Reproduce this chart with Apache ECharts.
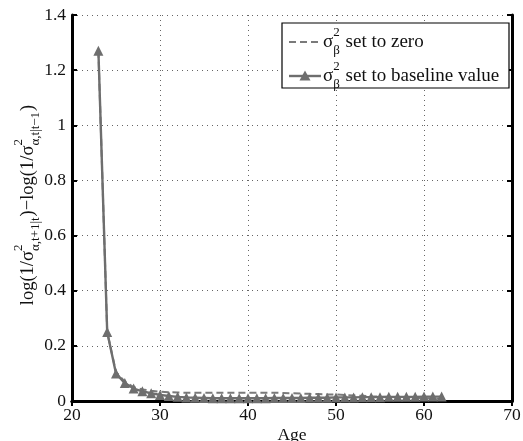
<!DOCTYPE html>
<html><head><meta charset="utf-8">
<script src="https://cdn.jsdelivr.net/npm/echarts@6/dist/echarts.min.js"></script>
<style>html,body{margin:0;padding:0;background:#fff}#c{width:523px;height:441px}</style>
</head><body><div id="c"></div>
<script>
var ages = [23,24,25,26,27,28,29,30,31,32,33,34,35,36,37,38,39,40,41,42,43,44,45,46,47,48,49,50,51,52,53,54,55,56,57,58,59,60,61,62];
var baselineVals = [1.27,0.25,0.10,0.065,0.045,0.035,0.028,0.022,0.018,0.015,0.013,0.012,0.011,0.010,0.010,0.010,0.010,0.010,0.010,0.010,0.011,0.011,0.011,0.011,0.012,0.012,0.012,0.013,0.013,0.013,0.014,0.014,0.014,0.015,0.015,0.015,0.015,0.016,0.016,0.016];
var zeroVals = [1.27,0.25,0.105,0.07,0.05,0.042,0.037,0.034,0.032,0.031,0.030,0.030,0.030,0.030,0.030,0.030,0.030,0.030,0.030,0.030,0.030,0.029,0.028,0.027,0.026,0.025,0.024,0.024,0.022,0.020,0.019,0.017,0.016,0.015,0.013,0.012,0.011,0.010,0.009,0.008];
var xTicks = {min:20, max:70, step:10};
var yTicks = {min:0, max:1.4, step:0.2};
var legendNames = ['set to zero','set to baseline value'];

var FONT = '"Liberation Serif","Times New Roman",serif';
var TXT = '#111';
var GRAY = '#6e6e6e';
var cv = document.createElement('canvas').getContext('2d');
function tw(t, s){ cv.font = s + 'px ' + FONT; return cv.measureText(t).width; }

function mathText(pieces, size, ssize, supDy, subDy, z){
  var kids = [], x = 0;
  function mk(t, xx, yy, s){
    return {type:'text', x:xx, y:yy, z:z, style:{text:t, fontSize:s, fontFamily:FONT, fill:TXT, verticalAlign:'middle', align:'left'}};
  }
  pieces.forEach(function(p){
    if (typeof p === 'string'){
      kids.push(mk(p, x, 0, size));
      x += tw(p, size);
    } else {
      var w = 0;
      if (p.sup){ kids.push(mk(p.sup, x, supDy, ssize)); w = Math.max(w, tw(p.sup, ssize)); }
      if (p.sub){ kids.push(mk(p.sub, x, subDy, ssize)); w = Math.max(w, tw(p.sub, ssize)); }
      x += w + 1;
    }
  });
  return {kids:kids, width:x};
}

var ytitle = mathText(['log(1/σ',{sup:'2',sub:'α,t+1|t'},')−log(1/σ',{sup:'2',sub:'α,t|t−1'},')'], 18.5, 13, -9, 8, 5);
ytitle.kids.forEach(function(k){ k.x -= ytitle.width/2; });

var leg1 = mathText(['σ',{sup:'2',sub:'β'},' ' + legendNames[0]], 19, 13, -9, 9, 12);
var leg2 = mathText(['σ',{sup:'2',sub:'β'},' ' + legendNames[1]], 19, 13, -9, 9, 12);

function pairs(xs, ys){ return xs.map(function(a,i){ return [a, ys[i]]; }); }

var chart = echarts.init(document.getElementById('c'));
var axisLine = {show:true, lineStyle:{color:'#000', width:3}};
var tick = {show:true, inside:true, length:5, lineStyle:{color:'#000', width:2}};
var split = {show:true, lineStyle:{color:'#666', width:1, type:[1,4]}};
chart.setOption({
  animation:false,
  backgroundColor:'#fff',
  grid:{left:72, right:11, top:15, bottom:40, show:false, containLabel:false, outerBoundsMode:'none'},
  xAxis:[
    {type:'value', min:xTicks.min, max:xTicks.max, interval:xTicks.step, position:'bottom',
     axisLine:axisLine, axisTick:tick, splitLine:split,
     axisLabel:{fontFamily:FONT, fontSize:17.5, color:TXT, margin:5},
     name:'Age', nameLocation:'middle', nameGap:25, nameMoveOverlap:false,
     nameTextStyle:{fontFamily:FONT, fontSize:17.5, color:TXT}},
    {type:'value', min:xTicks.min, max:xTicks.max, interval:xTicks.step, position:'top',
     axisLine:axisLine, axisTick:tick, splitLine:{show:false}, axisLabel:{show:false}}
  ],
  yAxis:[
    {type:'value', min:yTicks.min, max:yTicks.max, interval:yTicks.step, position:'left',
     axisLine:axisLine, axisTick:tick, splitLine:split,
     axisLabel:{fontFamily:FONT, fontSize:17.5, color:TXT, margin:6}},
    {type:'value', min:yTicks.min, max:yTicks.max, interval:yTicks.step, position:'right',
     axisLine:axisLine, axisTick:tick, splitLine:{show:false}, axisLabel:{show:false}}
  ],
  series:[
    {type:'line', name:legendNames[0], data:pairs(ages, zeroVals), showSymbol:false, symbol:'none',
     lineStyle:{color:'#7a7a7a', width:2, type:[7,4]}, z:2},
    {type:'line', name:legendNames[1], data:pairs(ages, baselineVals), symbol:'triangle', symbolSize:10,
     itemStyle:{color:GRAY}, lineStyle:{color:GRAY, width:2.4}, z:3}
  ],
  graphic:[
    {type:'group', x:28, y:205, rotation:Math.PI/2, children:ytitle.kids},
    {type:'rect', shape:{x:282, y:23, width:227, height:65}, style:{fill:'#fff', stroke:'#000', lineWidth:1.2}, z:10},
    {type:'line', shape:{x1:289, y1:42, x2:321, y2:42}, style:{stroke:'#7a7a7a', lineWidth:2, lineDash:[7,4]}, z:11},
    {type:'group', x:323, y:42, children:leg1.kids},
    {type:'line', shape:{x1:289, y1:76, x2:321, y2:76}, style:{stroke:GRAY, lineWidth:2.4}, z:11},
    {type:'polygon', shape:{points:[[305,70.5],[310.5,80.5],[299.5,80.5]]}, style:{fill:GRAY}, z:11},
    {type:'group', x:323, y:76, children:leg2.kids}
  ]
});
</script></body></html>
